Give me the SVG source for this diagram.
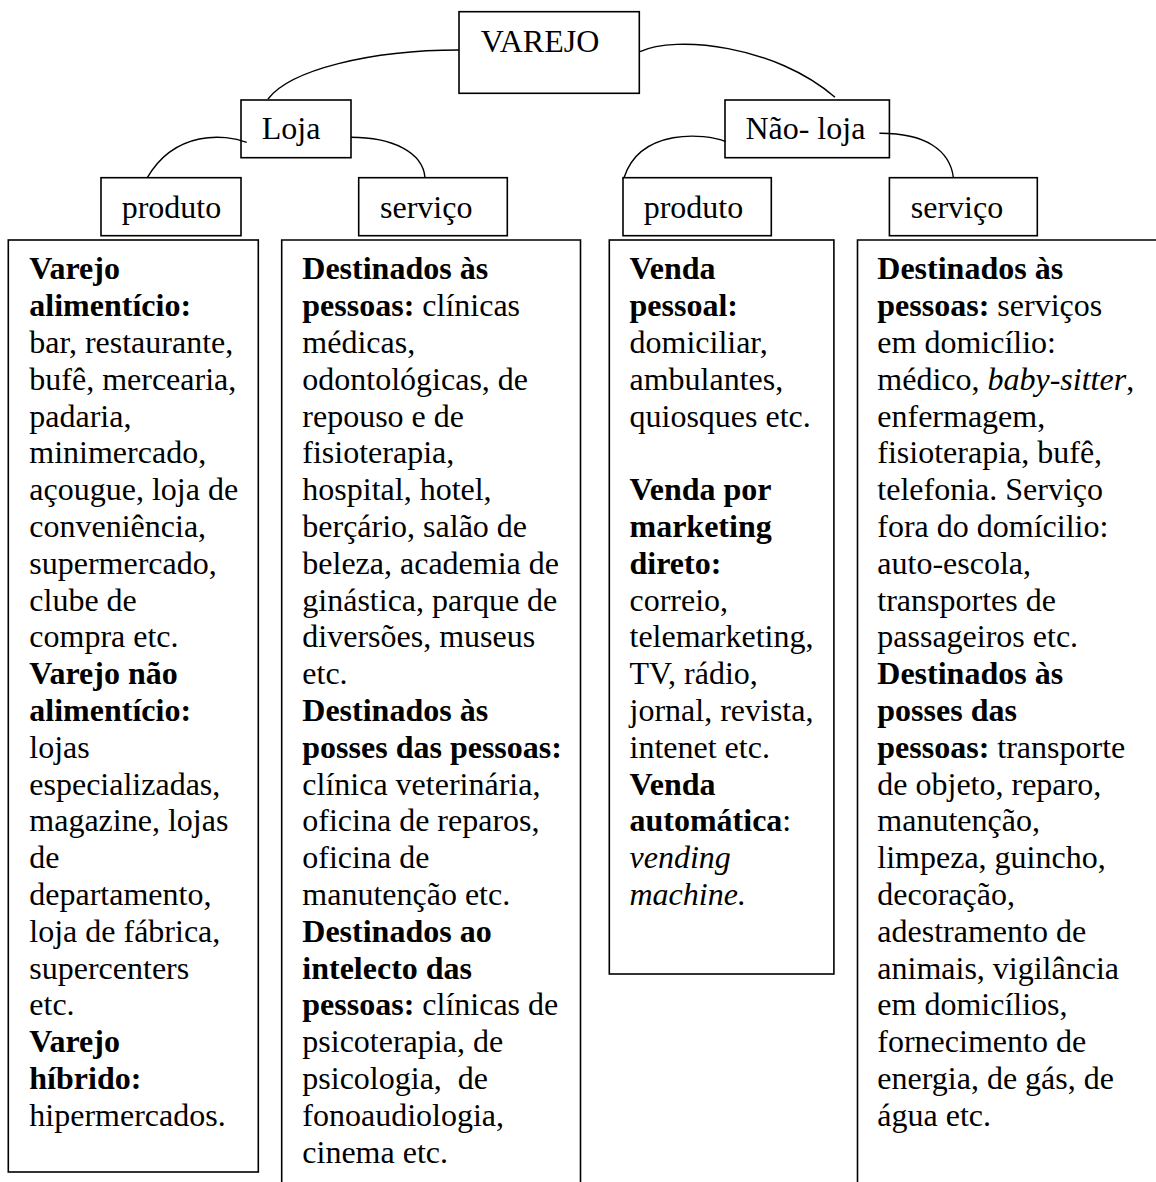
<svg xmlns="http://www.w3.org/2000/svg" width="1156" height="1182" viewBox="0 0 1156 1182">
<style>
.bx{fill:#fff;stroke:#000;stroke-width:1.6}
.op{fill:none;stroke:#000;stroke-width:1.6}
.cn{fill:none;stroke:#000;stroke-width:1.4}
text{font-family:"Liberation Serif","Times New Roman",serif;font-size:32px;fill:#000}
.b{font-weight:bold}
.i{font-style:italic}
</style>
<rect width="1156" height="1182" fill="#fff"/>
<g id="n-varejo">
<rect class="bx" x="459" y="11.7" width="180.3" height="81.6"/>
<text x="480.7" y="51.7">VAREJO</text>
</g>
<g id="n-loja">
<rect class="bx" x="241" y="100" width="110" height="57.7"/>
<text x="261.7" y="139.3">Loja</text>
</g>
<g id="n-naoloja">
<rect class="bx" x="725" y="100" width="164.4" height="57.7"/>
<text x="745.4" y="139.3">Não- loja</text>
</g>
<g id="n-loja-produto">
<rect class="bx" x="101" y="177.7" width="140" height="58"/>
<text x="121.7" y="217.7">produto</text>
</g>
<g id="n-loja-servico">
<rect class="bx" x="358.7" y="177.7" width="148.6" height="58"/>
<text x="380" y="217.7">serviço</text>
</g>
<g id="n-naoloja-produto">
<rect class="bx" x="623" y="177.7" width="148.3" height="58"/>
<text x="643.7" y="217.7">produto</text>
</g>
<g id="n-naoloja-servico">
<rect class="bx" x="889.4" y="177.7" width="147.9" height="58"/>
<text x="910.8" y="217.7">serviço</text>
</g>
<g id="connectors">
<path class="cn" d="M459,50 C370,50 290,70 268,99"/>
<path class="cn" d="M640,51.7 C675,35 775,45 835,97.3"/>
<path class="cn" d="M246.7,142.3 C225,134 175,130 147.3,177.7"/>
<path class="cn" d="M351,137.3 C392,137.3 423,152 425,177.7"/>
<path class="cn" d="M725.8,141.7 C705,133 640,128 624,177.7"/>
<path class="cn" d="M879.4,133.3 C925,133 950,150 953.4,177.7"/>
</g>
<g id="c-loja-produto">
<rect class="bx" x="8.3" y="240" width="250" height="932"/>
<text x="29.3" y="279.3" class="b">Varejo</text>
<text x="29.3" y="316.1" class="b">alimentício:</text>
<text x="29.3" y="352.9">bar, restaurante,</text>
<text x="29.3" y="389.7">bufê, mercearia,</text>
<text x="29.3" y="426.5">padaria,</text>
<text x="29.3" y="463.3">minimercado,</text>
<text x="29.3" y="500.1">açougue, loja de</text>
<text x="29.3" y="536.9">conveniência,</text>
<text x="29.3" y="573.7">supermercado,</text>
<text x="29.3" y="610.5">clube de</text>
<text x="29.3" y="647.3">compra etc.</text>
<text x="29.3" y="684.1" class="b">Varejo não</text>
<text x="29.3" y="720.9" class="b">alimentício:</text>
<text x="29.3" y="757.7">lojas</text>
<text x="29.3" y="794.5">especializadas,</text>
<text x="29.3" y="831.3">magazine, lojas</text>
<text x="29.3" y="868.1">de</text>
<text x="29.3" y="904.9">departamento,</text>
<text x="29.3" y="941.7">loja de fábrica,</text>
<text x="29.3" y="978.5">supercenters</text>
<text x="29.3" y="1015.3">etc.</text>
<text x="29.3" y="1052.1" class="b">Varejo</text>
<text x="29.3" y="1088.9" class="b">híbrido:</text>
<text x="29.3" y="1125.7">hipermercados.</text>
</g>
<g id="c-loja-servico">
<path class="op" d="M281.7,1182 V240 H580.5 V1182"/>
<text x="302.3" y="279.3" class="b">Destinados às</text>
<text x="302.3" y="316.1"><tspan class="b">pessoas:</tspan> clínicas</text>
<text x="302.3" y="352.9">médicas,</text>
<text x="302.3" y="389.7">odontológicas, de</text>
<text x="302.3" y="426.5">repouso e de</text>
<text x="302.3" y="463.3">fisioterapia,</text>
<text x="302.3" y="500.1">hospital, hotel,</text>
<text x="302.3" y="536.9">berçário, salão de</text>
<text x="302.3" y="573.7">beleza, academia de</text>
<text x="302.3" y="610.5">ginástica, parque de</text>
<text x="302.3" y="647.3">diversões, museus</text>
<text x="302.3" y="684.1">etc.</text>
<text x="302.3" y="720.9" class="b">Destinados às</text>
<text x="302.3" y="757.7" class="b">posses das pessoas:</text>
<text x="302.3" y="794.5">clínica veterinária,</text>
<text x="302.3" y="831.3">oficina de reparos,</text>
<text x="302.3" y="868.1">oficina de</text>
<text x="302.3" y="904.9">manutenção etc.</text>
<text x="302.3" y="941.7" class="b">Destinados ao</text>
<text x="302.3" y="978.5" class="b">intelecto das</text>
<text x="302.3" y="1015.3"><tspan class="b">pessoas:</tspan> clínicas de</text>
<text x="302.3" y="1052.1">psicoterapia, de</text>
<text x="302.3" y="1088.9" xml:space="preserve">psicologia,  de</text>
<text x="302.3" y="1125.7">fonoaudiologia,</text>
<text x="302.3" y="1162.5">cinema etc.</text>
</g>
<g id="c-naoloja-produto">
<rect class="bx" x="609.3" y="240" width="224.6" height="734"/>
<text x="629.5" y="279.3" class="b">Venda</text>
<text x="629.5" y="316.1" class="b">pessoal:</text>
<text x="629.5" y="352.9">domiciliar,</text>
<text x="629.5" y="389.7">ambulantes,</text>
<text x="629.5" y="426.5">quiosques etc.</text>
<text x="629.5" y="500.1" class="b">Venda por</text>
<text x="629.5" y="536.9" class="b">marketing</text>
<text x="629.5" y="573.7" class="b">direto:</text>
<text x="629.5" y="610.5">correio,</text>
<text x="629.5" y="647.3">telemarketing,</text>
<text x="629.5" y="684.1">TV, rádio,</text>
<text x="629.5" y="720.9">jornal, revista,</text>
<text x="629.5" y="757.7">intenet etc.</text>
<text x="629.5" y="794.5" class="b">Venda</text>
<text x="629.5" y="831.3"><tspan class="b">automática</tspan>:</text>
<text x="629.5" y="868.1" class="i">vending</text>
<text x="629.5" y="904.9" class="i">machine.</text>
</g>
<g id="c-naoloja-servico">
<path class="op" d="M857.5,1182 V240 H1156"/>
<text x="877.3" y="279.3" class="b">Destinados às</text>
<text x="877.3" y="316.1"><tspan class="b">pessoas:</tspan> serviços</text>
<text x="877.3" y="352.9">em domicílio:</text>
<text x="877.3" y="389.7">médico, <tspan class="i">baby-sitter</tspan>,</text>
<text x="877.3" y="426.5">enfermagem,</text>
<text x="877.3" y="463.3">fisioterapia, bufê,</text>
<text x="877.3" y="500.1">telefonia. Serviço</text>
<text x="877.3" y="536.9">fora do domícilio:</text>
<text x="877.3" y="573.7">auto-escola,</text>
<text x="877.3" y="610.5">transportes de</text>
<text x="877.3" y="647.3">passageiros etc.</text>
<text x="877.3" y="684.1" class="b">Destinados às</text>
<text x="877.3" y="720.9" class="b">posses das</text>
<text x="877.3" y="757.7"><tspan class="b">pessoas:</tspan> transporte</text>
<text x="877.3" y="794.5">de objeto, reparo,</text>
<text x="877.3" y="831.3">manutenção,</text>
<text x="877.3" y="868.1">limpeza, guincho,</text>
<text x="877.3" y="904.9">decoração,</text>
<text x="877.3" y="941.7">adestramento de</text>
<text x="877.3" y="978.5">animais, vigilância</text>
<text x="877.3" y="1015.3">em domicílios,</text>
<text x="877.3" y="1052.1">fornecimento de</text>
<text x="877.3" y="1088.9">energia, de gás, de</text>
<text x="877.3" y="1125.7">água etc.</text>
</g>
</svg>
